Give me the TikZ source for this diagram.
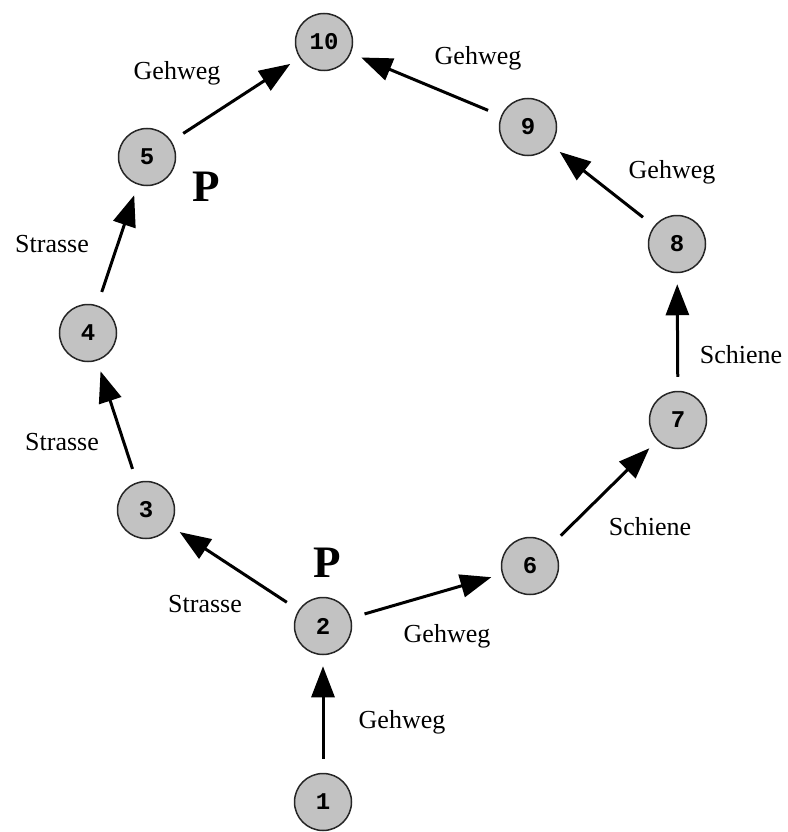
\documentclass[tikz,border=0pt]{standalone}
\usepackage{fontspec}
\setmainfont{Liberation Serif}
\newfontfamily\digitfont{Liberation Mono}
\usetikzlibrary{arrows.meta}
\begin{document}
\begin{tikzpicture}[x=1pt,y=-1pt,
  station/.style={circle,draw=black!85,line width=1.5pt,fill=black!24,
    minimum size=57pt,inner sep=0pt,font=\digitfont\bfseries\fontsize{24}{24}\selectfont},
  link/.style={line width=3pt,-{Triangle[length=31pt,width=23pt]},
    shorten <=14pt,shorten >=11pt},
  lbl/.style={font=\fontsize{26}{26}\selectfont,inner sep=0pt},
  park/.style={font=\bfseries\fontsize{45}{45}\selectfont,inner sep=0pt}]
\useasboundingbox (0,0) rectangle (787,832);
% stations
\node[station] (n1)  at (323,802) {1};
\node[station] (n2)  at (323,626) {2};
\node[station] (n3)  at (146,510) {3};
\node[station] (n4)  at (88,333)  {4};
\node[station] (n5)  at (147,157) {5};
\node[station] (n6)  at (530,566) {6};
\node[station] (n7)  at (678,420) {7};
\node[station] (n8)  at (677,244) {8};
\node[station] (n9)  at (528,127) {9};
\node[station] (n10) at (324,42)  {10};
% connections
\draw[link] (n1) -- (n2);
\draw[link] (n2) -- (n3);
\draw[link] (n2) -- (n6);
\draw[link] (n3) -- (n4);
\draw[link] (n4) -- (n5);
\draw[link] (n5) -- (n10);
\draw[link] (n6) -- (n7);
\draw[link] (n7) -- (n8);
\draw[link] (n8) -- (n9);
\draw[link] (n9) -- (n10);
% path type labels
\node[lbl] (l1)  at (402,722) {Gehweg};
\node[lbl] (l2)  at (205,604) {Strasse};
\node[lbl] (l3)  at (447,636) {Gehweg};
\node[lbl] (l4)  at (62,442)  {Strasse};
\node[lbl] (l5)  at (52,244)  {Strasse};
\node[lbl] (l6)  at (177,73)  {Gehweg};
\node[lbl] (l7)  at (650,527) {Schiene};
\node[lbl] (l8)  at (741,355) {Schiene};
\node[lbl] (l9)  at (672,172) {Gehweg};
\node[lbl] (l10) at (478,58)  {Gehweg};
% parking markers
\node[park] (p2) at (327,563) {P};
\node[park] (p5) at (206,187) {P};
\end{tikzpicture}
\end{document}
